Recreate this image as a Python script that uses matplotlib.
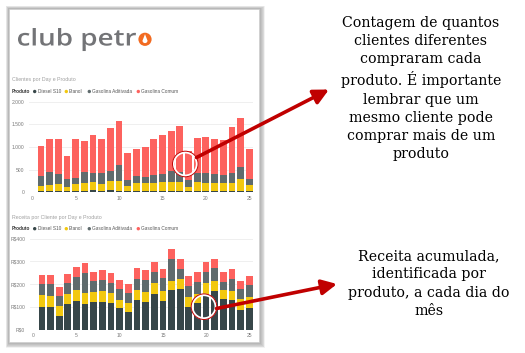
import matplotlib
matplotlib.use('Agg')
import matplotlib.pyplot as plt
from matplotlib.patches import Rectangle, Circle, Polygon, PathPatch
from matplotlib.textpath import TextPath
from matplotlib.font_manager import FontProperties
from matplotlib.transforms import Affine2D
import numpy as np

# ---------------- data ----------------
days = list(range(1, 26))
products = ['Diesel S10', 'Etanol', 'Gasolina Aditivada', 'Gasolina Comum']
colors = ['#374649', '#F2C80F', '#5F6B6D', '#FD625E']

# Clientes por Day e Produto (stacked segments)
clientes_diesel = [35, 30, 30, 25, 30, 30, 40, 35, 40, 35, 25, 30, 30, 30, 35, 35, 30, 25, 30, 30, 30, 30, 35, 30, 25]
clientes_etanol = [105, 132, 146, 85, 161, 183, 188, 149, 210, 215, 115, 176, 169, 176, 200, 193, 198, 100, 205, 176, 183, 183, 178, 257, 137]
clientes_aditivada = [220, 279, 236, 184, 133, 228, 191, 235, 221, 346, 139, 162, 139, 184, 162, 243, 221, 147, 184, 213, 199, 169, 221, 272, 132]
clientes_comum = [655, 735, 772, 500, 860, 684, 838, 765, 948, 985, 589, 595, 662, 779, 875, 875, 1014, 640, 772, 809, 772, 772, 1000, 1073, 662]

# Receita por Cliente por Day e Produto (stacked segments)
receita_diesel = [101, 101, 60, 111, 127, 111, 120, 123, 116, 94, 76, 129, 120, 158, 126, 173, 177, 98, 116, 158, 170, 133, 132, 87, 97]
receita_etanol = [51, 48, 43, 46, 47, 49, 44, 47, 44, 38, 41, 47, 46, 47, 45, 42, 44, 44, 42, 47, 45, 41, 38, 48, 48]
receita_aditivada = [47, 50, 46, 47, 59, 88, 50, 47, 47, 48, 46, 48, 54, 48, 56, 94, 47, 51, 50, 48, 55, 37, 54, 44, 52]
receita_comum = [41, 41, 39, 39, 41, 44, 39, 47, 41, 40, 36, 49, 44, 43, 40, 46, 41, 41, 44, 44, 41, 41, 42, 37, 40]

clientes_ticks = [0, 500, 1000, 1500, 2000]
clientes_ticklabels = ['0', '500', '1.000', '1.500', '2.000']
receita_ticks = [0, 100, 200, 300, 400]
receita_ticklabels = ['R$0', 'R$100', 'R$200', 'R$300', 'R$400']
x_ticks = [0, 5, 10, 15, 20, 25]

title1 = 'Clientes por Day e Produto'
title2 = 'Receita por Cliente por Day e Produto'
note1 = ('Contagem de quantos\nclientes diferentes\ncompraram cada\nproduto. É importante\n'
         'lembrar que um\nmesmo cliente pode\ncomprar mais de um\nproduto')
note2 = 'Receita acumulada,\nidentificada por\nproduto, a cada dia do\nmês'

SMALL = 'Liberation Sans'

# ---------------- figure ----------------
W, H = 525, 353
fig = plt.figure(figsize=(W / 100, H / 100), dpi=100)
fig.patch.set_facecolor('white')


def px_axes(left, top, right, bottom, **kw):
    return fig.add_axes([left / W, 1 - bottom / H, (right - left) / W, (bottom - top) / H], **kw)


# background overlay (panel + shadow)
bg = px_axes(0, 0, W, H, zorder=0)
bg.set_xlim(0, W); bg.set_ylim(H, 0); bg.axis('off')
px0, py0, px1, py1 = 9, 9, 259, 342
for i in range(7, 0, -1):
    bg.add_patch(Rectangle((px0 - i * 0.45, py0 - i * 0.45), (px1 - px0) + i * 1.35, (py1 - py0) + i * 1.35,
                           facecolor='black', alpha=0.05, edgecolor='none'))
bg.add_patch(Rectangle((px0, py0), px1 - px0, py1 - py0, facecolor='white', edgecolor='#d0d0d0', lw=0.5))

# logo: "club petr" fitted into its box, then the orange "o" with a drop
fp = FontProperties(family='Open Sans', weight='semibold')
tp = TextPath((0, 0), 'club petr', size=1, prop=fp)
ext = tp.get_extents()
sx = (136.0 - 18.0) / (ext.x1 - ext.x0)
sy = (45.5 - 28.0) / ext.y1
logo_tf = Affine2D().translate(-ext.x0, 0).scale(sx, -sy).translate(18.0, 45.5) + bg.transData
bg.add_patch(PathPatch(tp, facecolor='#737477', edgecolor='none', transform=logo_tf))
bg.add_patch(Circle((145.0, 39.3), 6.6, facecolor='#F26B21', edgecolor='none'))
t = np.linspace(0, np.pi, 30)
drop = [(145.0, 34.2)] + [(145.0 + 2.5 * np.cos(a), 40.6 + 2.5 * np.sin(a)) for a in t]
bg.add_patch(Polygon(drop, closed=True, facecolor='white', edgecolor='none'))


def legend_row(y):
    bg.text(12, y, 'Produto', fontsize=3.4, family=SMALL, color='#333333', fontweight='bold',
            va='center', ha='left')
    xs = [34.7, 66.3, 89.3, 138.3]
    for xm, c, lab in zip(xs, colors, products):
        bg.add_patch(Circle((xm, y), 1.7, facecolor=c, edgecolor='none'))
        bg.text(xm + 2.8, y, lab, fontsize=3.4, family=SMALL, color='#555555', va='center', ha='left')


bg.text(12, 80, title1, fontsize=3.8, family=SMALL, color='#a0a0a0', va='center', ha='left')
legend_row(91.5)
bg.text(12, 217.3, title2, fontsize=3.8, family=SMALL, color='#a0a0a0', va='center', ha='left')
legend_row(228.7)


def stacked(ax, series, ymax, ticks, ticklabels):
    bottom = np.zeros(len(days))
    for vals, c in zip(series, colors):
        ax.bar(days, vals, bottom=bottom, width=0.78, color=c, edgecolor='none', zorder=2)
        bottom = bottom + np.array(vals)
    ax.set_xlim(-0.38, 25.43)
    ax.set_ylim(0, ymax)
    ax.set_yticks(ticks)
    ax.set_yticklabels(ticklabels)
    ax.set_xticks(x_ticks)
    ax.grid(axis='y', color='#ececec', lw=0.6, zorder=0)
    ax.set_axisbelow(True)
    for s in ax.spines.values():
        s.set_visible(False)
    ax.tick_params(axis='both', length=0, labelsize=3.6, labelcolor='#7a7a7a')
    for lab in ax.get_xticklabels() + ax.get_yticklabels():
        lab.set_family(SMALL)
    ax.tick_params(axis='y', pad=3.5)
    ax.tick_params(axis='x', pad=2.5)
    ax.set_facecolor('none')


ax1 = px_axes(29, 101.7, 253, 192.3, zorder=1)
stacked(ax1, [clientes_diesel, clientes_etanol, clientes_aditivada, clientes_comum],
        2000, clientes_ticks, clientes_ticklabels)
ax2 = px_axes(30, 238.7, 253, 329.7, zorder=1)
stacked(ax2, [receita_diesel, receita_etanol, receita_aditivada, receita_comum],
        400, receita_ticks, receita_ticklabels)

# foreground overlay: highlight circles, arrows, notes
fg = px_axes(0, 0, W, H, zorder=5)
fg.set_xlim(0, W); fg.set_ylim(H, 0); fg.axis('off')
fg.patch.set_alpha(0)
red = '#C00000'
for (cx, cy) in [(185.3, 164.0), (204.0, 306.7)]:
    fg.add_patch(Circle((cx, cy), 11.8, fill=False, edgecolor='white', lw=1.8))
    fg.add_patch(Circle((cx, cy), 12.8, fill=False, edgecolor=red, lw=0.7))

fg.annotate('', xy=(329, 89.5), xytext=(196.5, 157.5),
            arrowprops=dict(arrowstyle='-|>,head_length=0.9,head_width=0.45', color=red, lw=2.6,
                            shrinkA=0, shrinkB=0))
fg.annotate('', xy=(337, 284), xytext=(216.5, 308.5),
            arrowprops=dict(arrowstyle='-|>,head_length=0.9,head_width=0.45', color=red, lw=2.6,
                            shrinkA=0, shrinkB=0))

fg.text(421, 88.5, note1, fontsize=10.2, family='DejaVu Serif', ha='center', va='center',
        linespacing=1.38, color='black')
fg.text(429, 283.5, note2, fontsize=10.2, family='DejaVu Serif', ha='center', va='center',
        linespacing=1.38, color='black')

fig.savefig('out.png', dpi=100, facecolor='white')
